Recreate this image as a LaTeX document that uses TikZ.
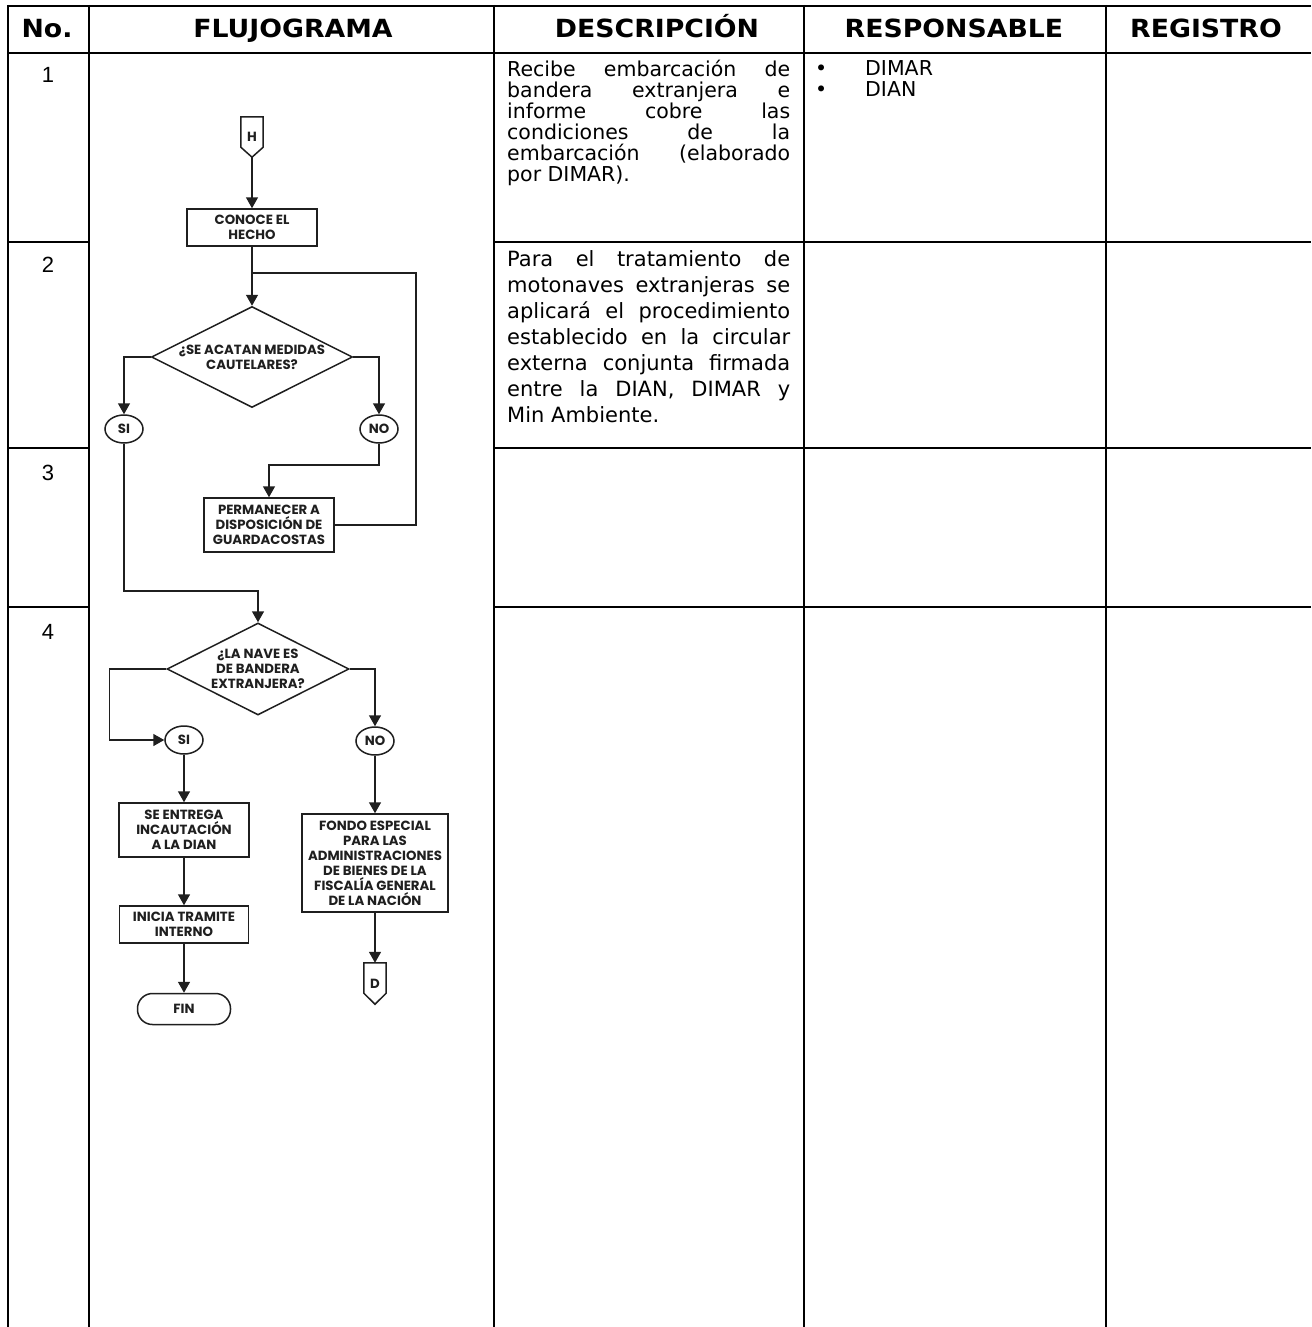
\documentclass[tikz,border=0pt]{standalone}
\usepackage{fontspec}
\setmainfont{DejaVu Sans}
\newfontfamily\hdrfont[FakeStretch=1.07]{DejaVu Sans}
\newfontfamily\numfont{Liberation Sans}
\newfontfamily\flowfont{Poppins}
\usetikzlibrary{arrows.meta,shapes.geometric}
\begin{document}
\begin{tikzpicture}[x=1pt,y=-1pt,
  tbl/.style={line width=2pt},
  flw/.style={line width=1.5pt, draw=black!88},
  arr/.style={flw, -{Triangle[width=12pt,length=11pt]}},
  ftxt/.style={font=\flowfont\bfseries\fontsize{13.3}{15}\selectfont, align=center, text=black!88},
  proc/.style={ftxt, draw=black!88, line width=1.5pt, rectangle, inner sep=0pt},
  dec/.style={ftxt, draw=black!88, line width=1.5pt, diamond, inner sep=0pt},
  ovl/.style={ftxt, draw=black!88, line width=1.5pt, ellipse, inner sep=0pt, minimum width=38pt, minimum height=28pt},
  term/.style={ftxt, draw=black!88, line width=1.5pt, rectangle, rounded corners=15pt, inner sep=0pt, minimum width=93pt, minimum height=31pt},
  offp/.style={ftxt, inner sep=0pt, minimum width=22pt, minimum height=40pt},
  hdr/.style={font=\hdrfont\bfseries\fontsize{25}{28}\selectfont, anchor=base},
  num/.style={font=\numfont\fontsize{22}{26}\selectfont},
  desc/.style={anchor=north west, inner sep=0pt, text width=283pt, align=justify},
  resp/.style={anchor=base west, inner sep=0pt, font=\fontsize{20.5}{22}\selectfont}
]
\useasboundingbox (0,0) rectangle (1311,1327);
\fill[white] (0,0) rectangle (1311,1327);

% ---------- table ----------
\draw[tbl] (7,6) -- (1311,6);
\draw[tbl] (7,53) -- (1311,53);
\foreach \xx in {8,88.5,494,804,1106} {\draw[tbl] (\xx,5) -- (\xx,1327);}
\foreach \yy in {242,448,607} {
  \draw[tbl] (8,\yy) -- (88.5,\yy);
  \draw[tbl] (494,\yy) -- (1311,\yy);
}

% headers
\node[hdr] (hno)  at (47,38)   {No.};
\node[hdr] (hflu) at (293,38)  {FLUJOGRAMA};
\node[hdr] (hdes) at (657,38)  {DESCRIPCIÓN};
\node[hdr] (hres) at (954,38)  {RESPONSABLE};
\node[hdr] (hreg) at (1206,38) {REGISTRO};

% row numbers
\node[num] (n1) at (48,75)  {1};
\node[num] (n2) at (48,265) {2};
\node[num] (n3) at (48,473) {3};
\node[num] (n4) at (48,632) {4};

% descriptions
\node[desc, font=\fontsize{20.5}{21}\selectfont] (d1txt) at (507,60)
 {Recibe embarcación de\linebreak bandera extranjera e\linebreak informe cobre las\linebreak condiciones de la\linebreak embarcación (elaborado\linebreak por DIMAR).};
\node[desc, font=\fontsize{21}{26}\selectfont] (d2txt) at (507,250)
 {Para el tratamiento de\linebreak motonaves extranjeras se\linebreak aplicará el procedimiento\linebreak establecido en la circular\linebreak externa conjunta firmada\linebreak entre la DIAN, DIMAR y\linebreak Min Ambiente.};

% responsables
\node[resp] (b1) at (815,76) {•};
\node[resp] (r1) at (865,76) {DIMAR};
\node[resp] (b2) at (815,97) {•};
\node[resp] (r2) at (865,97) {DIAN};

% ---------- flowchart ----------
\node[offp] (H) at (252,137) {H};
\draw[flw] (H.north west) -- (H.north east) -- ([yshift=10pt]H.south east) -- (H.south) -- ([yshift=10pt]H.south west) -- cycle;

\node[proc, minimum width=130pt, minimum height=37pt] (conoce) at (252,227.5) {CONOCE EL\\HECHO};
\node[dec, minimum width=201pt, minimum height=101pt] (dec1) at (252,357)
 {\makebox[0pt]{¿SE ACATAN MEDIDAS}\\\makebox[0pt]{CAUTELARES?}};
\node[ovl] (si1) at (124,429) {SI};
\node[ovl] (no1) at (379,429) {NO};
\node[proc, minimum width=130pt, minimum height=54pt] (perm) at (269,525) {PERMANECER A\\DISPOSICIÓN DE\\GUARDACOSTAS};

\node[dec, minimum width=182pt, minimum height=92pt] (dec2) at (258,669)
 {\makebox[0pt]{¿LA NAVE ES}\\\makebox[0pt]{DE BANDERA}\\\makebox[0pt]{EXTRANJERA?}};
\node[ovl] (si2) at (184,740) {SI};
\node[ovl] (no2) at (375,741) {NO};
\node[proc, minimum width=130pt, minimum height=54pt] (entrega) at (184,830) {SE ENTREGA\\INCAUTACIÓN\\A LA DIAN};
\node[proc, minimum width=129pt, minimum height=37pt] (inicia) at (184,924.5) {INICIA TRAMITE\\INTERNO};
\node[term] (fin) at (184,1009) {FIN};
\node[proc, minimum width=146pt, minimum height=98pt] (fondo) at (375,863)
 {FONDO ESPECIAL\\PARA LAS\\ADMINISTRACIONES\\DE BIENES DE LA\\FISCALÍA GENERAL\\DE LA NACIÓN};
\node[offp, minimum height=41pt] (D) at (375,983.5) {D};
\draw[flw] (D.north west) -- (D.north east) -- ([yshift=11pt]D.south east) -- (D.south) -- ([yshift=11pt]D.south west) -- cycle;

\coordinate (jn) at (252,273);
\coordinate (lp) at (416,273);

% connectors
\draw[arr] (H.south) -- (conoce.north);
\draw[arr] (conoce.south) -- (dec1.north);
\draw[flw] (perm.east) -| (lp) -- (jn);
\draw[arr] (dec1.west) -| (si1.north);
\draw[arr] (dec1.east) -| (no1.north);
\draw[arr] (no1.south) -- ++(0,21) -| (perm.north);
\draw[arr] (si1.south) -- ++(0,147) -| (dec2.north);
\draw[arr] (dec2.west) -- ++(-57,0) |- (si2.west);
\draw[arr] (dec2.east) -| (no2.north);
\draw[arr] (si2.south) -- (entrega.north);
\draw[arr] (entrega.south) -- (inicia.north);
\draw[arr] (inicia.south) -- (fin.north);
\draw[arr] (no2.south) -- (fondo.north);
\draw[arr] (fondo.south) -- (D.north);
\end{tikzpicture}
\end{document}
